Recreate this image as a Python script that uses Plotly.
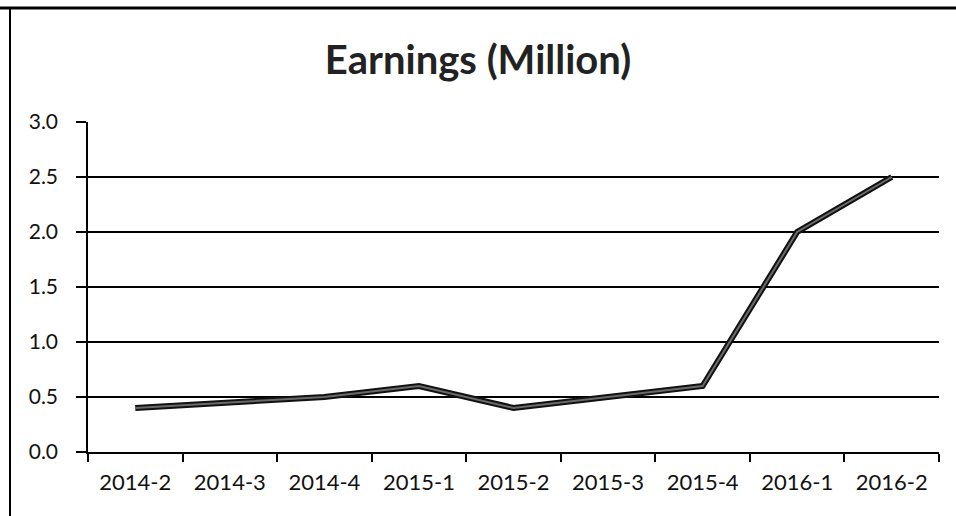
import plotly.graph_objects as go

quarters = ["2014-2", "2014-3", "2014-4", "2015-1", "2015-2", "2015-3", "2015-4", "2016-1", "2016-2"]
earnings = [0.40, 0.45, 0.50, 0.60, 0.40, 0.50, 0.60, 2.00, 2.50]
y_ticks = [0.0, 0.5, 1.0, 1.5, 2.0, 2.5, 3.0]
y_tick_labels = ["0.0", "0.5", "1.0", "1.5", "2.0", "2.5", "3.0"]
title_text = "Earnings (Million)"

W, H = 956, 516
L, R, T, B = 88, 17, 122, 64
pw, ph = W - L - R, H - T - B

fig = go.Figure()
fig.add_trace(go.Scatter(x=quarters, y=earnings, mode="lines",
                         line=dict(color="#111111", width=6), hoverinfo="skip",
                         showlegend=False))
fig.add_trace(go.Scatter(x=quarters, y=earnings, mode="lines",
                         line=dict(color="#6a6a6a", width=2), name="Earnings",
                         showlegend=False))

def px_x(p):
    return (p - L) / pw

def px_y(p):
    return (H - B - p) / ph

# outer chart border (top and left edges)
fig.add_shape(type="line", xref="paper", yref="paper",
              x0=px_x(0), x1=px_x(W), y0=px_y(8), y1=px_y(8),
              line=dict(color="black", width=3))
fig.add_shape(type="line", xref="paper", yref="paper",
              x0=px_x(10), x1=px_x(10), y0=px_y(8), y1=px_y(H),
              line=dict(color="black", width=2))

fig.update_layout(
    width=W, height=H,
    margin=dict(l=L, r=R, t=T, b=B),
    paper_bgcolor="white", plot_bgcolor="white",
    font=dict(family="Lato, 'Open Sans', sans-serif", color="#111111", size=20),
    title=dict(text="<b>" + title_text + "</b>", x=0.5, xref="container", xanchor="center",
               y=1 - 60 / H, yanchor="middle",
               font=dict(size=40, color="#222222", family="Lato, 'Open Sans', sans-serif")),
    xaxis=dict(type="category", categoryorder="array", categoryarray=quarters,
               tickson="boundaries", ticks="outside", ticklen=8, tickcolor="black",
               tickwidth=1.5, showgrid=False, showline=True, linecolor="black",
               linewidth=1.5, tickfont=dict(size=22), zeroline=False,
               ticklabelstandoff=10,
               range=[-0.5, len(quarters) - 0.5]),
    yaxis=dict(range=[0, 3.0], tickvals=y_ticks, ticktext=y_tick_labels,
               ticks="outside", ticklen=10, tickcolor="black", tickwidth=1.5,
               showgrid=True, gridcolor="black", gridwidth=1.5,
               showline=True, linecolor="black", linewidth=1.5,
               zeroline=False, tickfont=dict(size=21), ticklabelstandoff=14),
)

fig.write_html("out.html", config={"displayModeBar": False},
               post_script="document.body.style.margin='0';document.body.style.overflow='hidden';")
